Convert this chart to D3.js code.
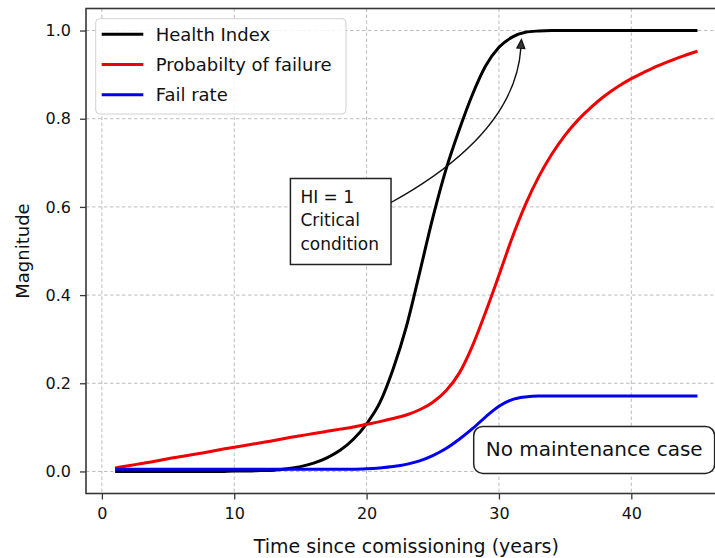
<!DOCTYPE html>
<html><head><meta charset="utf-8">
<script src="https://cdn.jsdelivr.net/npm/d3@7/dist/d3.min.js"></script>
<style>
body{margin:0;background:#fff}
svg{display:block}
text{font-family:"DejaVu Sans",sans-serif;fill:#111}
</style>
</head><body>
<svg id="chart" width="715" height="558"></svg>
<script>
// ---- data ----
const years = [1,2,3,4,5,6,7,8,9,10,11,12,13,14,15,16,17,18,19,20,21,22,23,24,25,26,27,28,29,30,31,32,33,34,35,36,37,38,39,40,41,42,43,44,45];
const healthIndex = [0,0,0,0,0,0,0,0,0,0.001,0.001,0.002,0.003,0.006,0.011,0.019,0.031,0.048,0.073,0.108,0.156,0.232,0.328,0.45,0.575,0.685,0.775,0.855,0.92,0.962,0.985,0.996,0.999,1,1,1,1,1,1,1,1,1,1,1,1];
const probFailure = [0.008,0.013,0.018,0.023,0.029,0.034,0.039,0.044,0.05,0.055,0.06,0.065,0.07,0.076,0.081,0.086,0.091,0.096,0.101,0.107,0.113,0.12,0.128,0.14,0.157,0.183,0.223,0.285,0.362,0.445,0.53,0.605,0.668,0.72,0.763,0.798,0.827,0.852,0.873,0.891,0.906,0.92,0.932,0.943,0.953];
const failRate = [0.005,0.005,0.005,0.005,0.005,0.005,0.005,0.005,0.005,0.005,0.005,0.005,0.005,0.005,0.005,0.005,0.005,0.005,0.005,0.006,0.008,0.011,0.016,0.024,0.036,0.052,0.073,0.097,0.124,0.148,0.163,0.169,0.171,0.171,0.171,0.171,0.171,0.171,0.171,0.171,0.171,0.171,0.171,0.171,0.171];
const seriesNames = ["Health Index","Probabilty of failure","Fail rate"];
const seriesColors = ["#000000","#f00000","#0000ee"];
const xTicks = [0,10,20,30,40];
const yTicks = [0.0,0.2,0.4,0.6,0.8,1.0];
const xTitle = "Time since comissioning (years)";
const yTitle = "Magnitude";
const noteLines = ["HI = 1","Critical","condition"];
const noteTextAt = [15, 0.61];
const noteArrowTip = [31.7, 0.98];
const caseLabel = "No maintenance case";
const caseLabelAt = [29, 0.034];

// ---- setup ----
const svg = d3.select("#chart");
const x = d3.scaleLinear().domain([-1.2, 47.2]).range([86, 726.6]);
const y = d3.scaleLinear().domain([-0.05, 1.05]).range([493.5, 8.5]);
const [xl, xr] = x.range(), [yb, yt] = y.range();

// grid
const grid = svg.append("g").attr("stroke","#b4b4b4").attr("stroke-width",0.9).attr("stroke-dasharray","3.5,2.5");
grid.selectAll("line.gx").data(xTicks).join("line").attr("class","gx")
  .attr("x1",d=>x(d)).attr("x2",d=>x(d)).attr("y1",yt).attr("y2",yb);
grid.selectAll("line.gy").data(yTicks).join("line").attr("class","gy")
  .attr("y1",d=>y(d)).attr("y2",d=>y(d)).attr("x1",xl).attr("x2",xr);

// lines
const series = [healthIndex, probFailure, failRate];
const line = d3.line().x((d,i)=>x(years[i])).y(d=>y(d)).curve(d3.curveMonotoneX);
svg.append("g").selectAll("path").data(series).join("path")
  .attr("d", d=>line(d)).attr("fill","none")
  .attr("stroke",(d,i)=>seriesColors[i]).attr("stroke-width",3).attr("stroke-linejoin","round").attr("stroke-linecap","butt");

// frame
svg.append("rect").attr("x",xl).attr("y",yt).attr("width",xr-xl).attr("height",yb-yt)
  .attr("fill","none").attr("stroke","#383838").attr("stroke-width",1.6);

// axes
const xAxis = svg.append("g").attr("transform",`translate(0,${yb})`)
  .call(d3.axisBottom(x).tickValues(xTicks).tickFormat(d3.format("d")).tickSize(6).tickPadding(8));
const yAxis = svg.append("g").attr("transform",`translate(${xl},0)`)
  .call(d3.axisLeft(y).tickValues(yTicks).tickFormat(d3.format(".1f")).tickSize(6).tickPadding(9));
[xAxis,yAxis].forEach(a=>{
  a.select(".domain").remove();
  a.selectAll(".tick line").attr("stroke","#383838").attr("stroke-width",1.3);
  a.selectAll(".tick text").style("font-size","16px").style("font-family","DejaVu Sans").attr("fill","#111");
});

svg.append("text").attr("x",(xl+xr)/2).attr("y",553).attr("text-anchor","middle")
  .style("font-size","19px").text(xTitle);
svg.append("text").attr("transform",`translate(29,${(yt+yb)/2}) rotate(-90)`).attr("text-anchor","middle")
  .style("font-size","18px").text(yTitle);

// annotation: HI = 1 critical condition
const noteG = svg.append("g");
const noteText = noteG.append("text").style("font-size","17px");
noteLines.forEach((t,i)=>{
  noteText.append("tspan").attr("x",x(noteTextAt[0])).attr("y",y(noteTextAt[1])+i*23.5).text(t);
});
const nb = noteText.node().getBBox();
noteG.insert("rect","text").attr("x",nb.x-10).attr("y",nb.y-8).attr("width",nb.width+22).attr("height",nb.height+19)
  .attr("fill","#fff").attr("stroke","#222").attr("stroke-width",1.5);
const p0 = [nb.x+nb.width+12, y(noteTextAt[1])];
const p2 = [x(noteArrowTip[0]), y(noteArrowTip[1])];
const c = [p0[0]+(p2[0]-p0[0])*0.95, p0[1]+(p2[1]-p0[1])*0.42];
const ah = 9, aw = 4;
const tdx = p2[0]-c[0], tdy = p2[1]-c[1], tl = Math.hypot(tdx,tdy);
const ux = tdx/tl, uy = tdy/tl;
const base = [p2[0]-ux*ah, p2[1]-uy*ah];
const arrowPath = d3.path();
arrowPath.moveTo(p0[0],p0[1]); arrowPath.quadraticCurveTo(c[0],c[1],base[0],base[1]);
svg.append("path").attr("d",arrowPath.toString()).attr("fill","none").attr("stroke","#111").attr("stroke-width",1.4);
svg.append("path")
  .attr("d",`M${p2[0]},${p2[1]}L${base[0]-uy*aw},${base[1]+ux*aw}L${base[0]+uy*aw},${base[1]-ux*aw}Z`)
  .attr("fill","#333").attr("stroke","#111").attr("stroke-width",1.2);

// case label box
const caseG = svg.append("g");
const caseText = caseG.append("text").attr("x",x(caseLabelAt[0])).attr("y",y(caseLabelAt[1]))
  .style("font-size","20px").text(caseLabel);
const cb = caseText.node().getBBox();
caseG.insert("rect","text").attr("x",cb.x-12).attr("y",cb.y-11).attr("width",cb.width+24).attr("height",cb.height+23)
  .attr("rx",9).attr("fill","#fff").attr("stroke","#222").attr("stroke-width",1.5);

// legend
const lg = svg.append("g");
lg.append("rect").attr("x",95.7).attr("y",18.7).attr("width",250.3).attr("height",95.3).attr("rx",4)
  .attr("fill","#fff").attr("fill-opacity",0.85).attr("stroke","#d0d0d0").attr("stroke-width",1);
const rows = lg.selectAll("g.row").data(seriesNames).join("g").attr("class","row")
  .attr("transform",(d,i)=>`translate(0,${34.3+i*30.2})`);
rows.append("line").attr("x1",101.7).attr("x2",143.3).attr("stroke",(d,i)=>seriesColors[i]).attr("stroke-width",3);
rows.append("text").attr("x",155.7).attr("y",6.3).style("font-size","18px").text(d=>d);
</script>
</body></html>
